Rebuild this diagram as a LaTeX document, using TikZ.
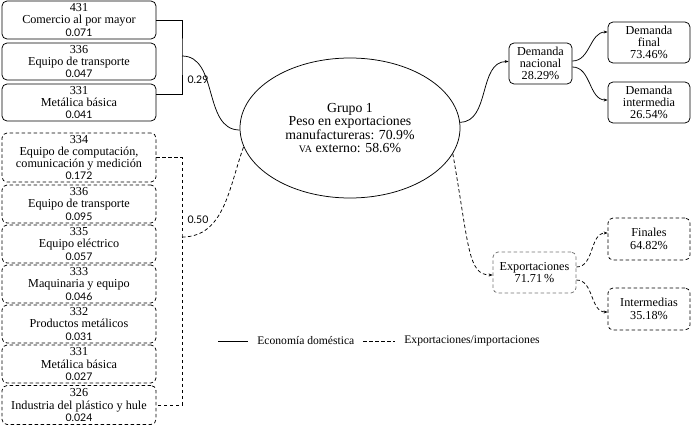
\documentclass[tikz,border=0pt]{standalone}
\usepackage{fontspec}
\setmainfont{Liberation Serif}
\newfontfamily\numfont{Lato}
\usetikzlibrary{shapes.geometric,arrows.meta}
\newcommand{\bxfont}{\fontsize{12.2}{12.3}\selectfont}
\newcommand{\lgfont}{\fontsize{11.6}{12}\selectfont}
\newcommand{\elfont}{\fontsize{13.8}{13.5}\selectfont}
\newcommand{\numtxt}[1]{{\numfont\fontsize{10.5}{10}\selectfont #1}}
\tikzset{
  lbox/.style={draw, rounded corners=5pt, minimum width=154pt, inner sep=0pt, align=center, font=\bxfont},
  dsh/.style={dash pattern=on 3.5pt off 2.5pt},
  dbox/.style={lbox, dsh},
  rbox/.style={draw, rounded corners=5pt, minimum width=82pt, minimum height=41pt, inner sep=0pt, align=center, font=\bxfont},
  arr/.style={-{Stealth[length=4pt,width=3pt]}},
  lbl/.style={inner sep=0pt, font=\numfont\fontsize{10.5}{10}\selectfont},
}
\begin{document}
\begin{tikzpicture}[x=1pt,y=-1pt,line width=0.75pt]
\useasboundingbox (0,0) rectangle (691,428);
% domestic boxes
\node[lbox, minimum height=38pt] (a1) at (79,20) {431\\Comercio al por mayor\\\numtxt{0.071}};
\node[lbox, minimum height=37pt] (a2) at (79,61.5) {336\\Equipo de transporte\\\numtxt{0.047}};
\node[lbox, minimum height=37pt] (a3) at (79,102.5) {331\\Metálica básica\\\numtxt{0.041}};
% export boxes
\node[dbox, minimum height=49pt] (b1) at (79,157.5) {334\\Equipo de computación,\\comunicación y medición\\\numtxt{0.172}};
\node[dbox, minimum height=38pt] (b2) at (79,204) {336\\Equipo de transporte\\\numtxt{0.095}};
\node[dbox, minimum height=38pt] (b3) at (79,244) {335\\Equipo eléctrico\\\numtxt{0.057}};
\node[dbox, minimum height=38pt] (b4) at (79,284) {333\\Maquinaria y equipo\\\numtxt{0.046}};
\node[dbox, minimum height=38pt] (b5) at (79,324) {332\\Productos metálicos\\\numtxt{0.031}};
\node[dbox, minimum height=38pt] (b6) at (79,364) {331\\Metálica básica\\\numtxt{0.027}};
\node[dbox, minimum height=39pt] (b7) at (79,405) {326\\Industria del plástico y hule\\\numtxt{0.024}};
% ellipse
\node[draw, ellipse, minimum width=220pt, minimum height=140pt, inner sep=0pt, align=center, font=\elfont] (G) at (350,128)
  {Grupo 1\\Peso en exportaciones\\manufactureras: 70.9\%\\{\fontsize{10}{10}\selectfont VA} externo: 58.6\%};
% right boxes
\node[rbox, minimum width=63pt] (DN) at (540.5,63.5) {Demanda\\nacional\\28.29\%};
\node[rbox] (DF) at (649,42.5) {Demanda\\final\\73.46\%};
\node[rbox] (DI) at (649,102.5) {Demanda\\intermedia\\26.54\%};
\node[rbox, minimum width=83pt, dsh, draw=black!55] (EX) at (534.5,272.5) {Exportaciones\\71.71\,\%};
\node[rbox, dsh, minimum height=42pt] (FI) at (649,239) {Finales\\64.82\%};
\node[rbox, dsh, minimum height=42pt] (IN) at (649,309) {Intermedias\\35.18\%};
% brackets
\coordinate (sj) at (182,56);
\coordinate (dj) at (182,237);
\draw (a1.east) -| (sj) |- ([yshift=8.5pt]a3.east);
\draw[dsh] (b1.east) -| (dj) |- (b7.east);
\node[lbl] (l29) at (198,80) {0.29};
\node[lbl] (l50) at (198,220) {0.50};
\draw (sj) to[out=0,in=180] ([yshift=-2pt]G.west);
\draw[dsh] (dj) to[out=0,in=-110] (G.190);
% right connectors
\draw[arr] (G.3) to[out=0,in=180] ([yshift=2pt]DN.west);
\draw[arr] ([yshift=2.5pt]DN.east) to[out=0,in=180] ([yshift=10.5pt]DF.west);
\draw[arr] ([yshift=-3.5pt]DN.east) to[out=0,in=180] ([yshift=2.5pt]DI.west);
\draw[arr,dsh] (G.-14) to[out=-80,in=180,out distance=95pt,in distance=25pt] ([yshift=-2.5pt]EX.west);
\draw[arr,dsh] ([yshift=5.5pt]EX.east) to[out=0,in=180] ([yshift=6pt]FI.west);
\draw[arr,dsh] ([yshift=-7.5pt]EX.east) to[out=0,in=180] ([yshift=-3pt]IN.west);
% legend
\coordinate (ls1) at (218,341);
\coordinate (ls2) at (248,341);
\coordinate (ld1) at (363,341);
\coordinate (ld2) at (395,341);
\draw (ls1) -- (ls2);
\draw[dsh] (ld1) -- (ld2);
\node[anchor=west, inner sep=0pt, font=\lgfont] (t1) at (257,341) {Economía doméstica};
\node[anchor=west, inner sep=0pt, font=\lgfont] (t2) at (404,341) {Exportaciones/importaciones};
\end{tikzpicture}
\end{document}
